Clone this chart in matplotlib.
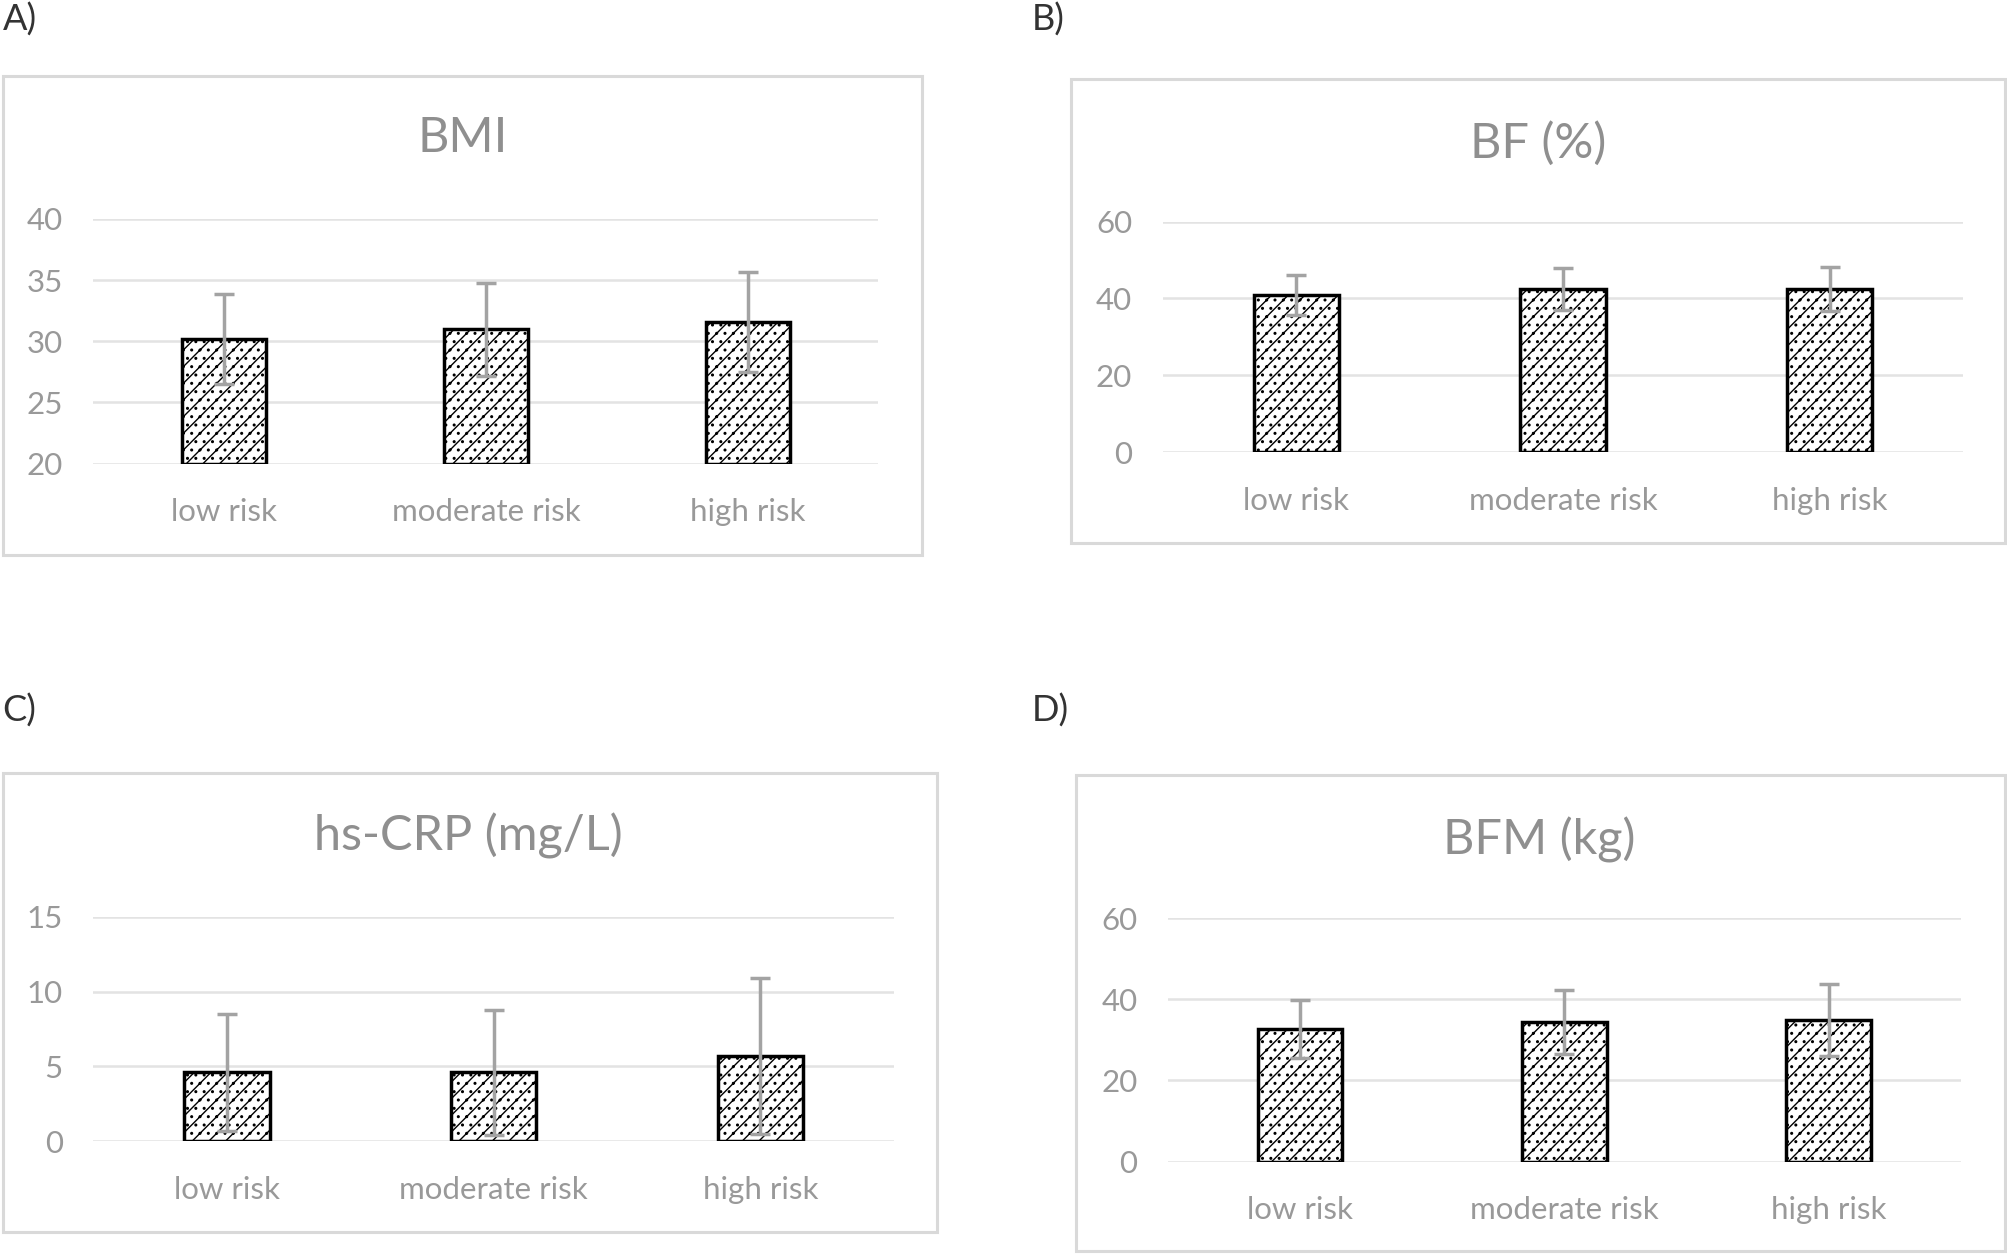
import matplotlib
matplotlib.use("Agg")
import matplotlib.pyplot as plt
from matplotlib.patches import Rectangle

plt.rcParams['font.family'] = ['Lato', 'DejaVu Sans']
plt.rcParams['hatch.linewidth'] = 1.0

categories = ["low risk", "moderate risk", "high risk"]

bmi_mean = [30.2, 31.0, 31.6]
bmi_sd = [3.7, 3.8, 4.1]
bf_mean = [40.8, 42.4, 42.4]
bf_sd = [5.2, 5.4, 5.7]
crp_mean = [4.6, 4.6, 5.7]
crp_sd = [3.9, 4.2, 5.2]
bfm_mean = [32.7, 34.5, 34.8]
bfm_sd = [7.2, 7.9, 8.9]

panel_letters = ["A)", "B)", "C)", "D)"]
titles = ["BMI", "BF (%)", "hs-CRP (mg/L)", "BFM (kg)"]

TXT = '#999999'
GRID = '#e3e3e3'
ERR = '#a3a3a3'

W, H = 1568, 980  # layout measured in shrunk-picture pixels


def fx(x):
    return x / W


def fy(y):
    return 1 - y / H


# box (x0, y0, x1, y1), axes (x0, x1, y_top, y_bottom), title (x, y), ylim, ticks, letter (x, y)
panels = [
    dict(box=(2, 59, 720, 433), ax=(73, 686, 171, 362), title=(361, 108),
         ylim=(20, 40), ticks=[20, 25, 30, 35, 40], letter=(2, 15),
         mean=bmi_mean, sd=bmi_sd),
    dict(box=(836, 62, 1566, 424), ax=(908, 1533, 173, 353), title=(1201, 112),
         ylim=(0, 60), ticks=[0, 20, 40, 60], letter=(806, 15),
         mean=bf_mean, sd=bf_sd),
    dict(box=(2, 604, 732, 962), ax=(73, 698, 716, 891), title=(366, 653),
         ylim=(0, 15), ticks=[0, 5, 10, 15], letter=(2, 555),
         mean=crp_mean, sd=crp_sd),
    dict(box=(840, 605, 1566, 977), ax=(912, 1531, 717, 907), title=(1202, 656),
         ylim=(0, 60), ticks=[0, 20, 40, 60], letter=(806, 555),
         mean=bfm_mean, sd=bfm_sd),
]

fig = plt.figure(figsize=(20.08, 12.55), dpi=100)

for i, p in enumerate(panels):
    bx0, by0, bx1, by1 = p['box']
    fig.patches.append(Rectangle((fx(bx0), fy(by1)), fx(bx1 - bx0), (by1 - by0) / H,
                                 transform=fig.transFigure, facecolor='white',
                                 edgecolor='#d9d9d9', linewidth=2.2, zorder=-1))
    ax0, ax1, ayt, ayb = p['ax']
    ax = fig.add_axes([fx(ax0), fy(ayb), fx(ax1 - ax0), (ayb - ayt) / H])
    ax.patch.set_alpha(0)
    x = range(len(categories))
    ax.bar(x, [m - p['ylim'][0] for m in p['mean']], bottom=p['ylim'][0], width=0.32,
           color='white', edgecolor='black', linewidth=2.5, hatch='//..', zorder=3)
    ax.errorbar(x, p['mean'], yerr=p['sd'], fmt='none', ecolor=ERR, elinewidth=2.5,
                capsize=7, capthick=2.5, zorder=4, clip_on=False)
    ax.set_xlim(-0.5, 2.5)
    ax.set_ylim(*p['ylim'])
    ax.set_yticks(p['ticks'])
    ax.set_xticks(list(x))
    ax.set_xticklabels(categories)
    ax.grid(axis='y', color=GRID, linewidth=1.8, zorder=0)
    ax.set_axisbelow(True)
    for s in ax.spines.values():
        s.set_visible(False)
    ax.tick_params(length=0, labelsize=22.5, labelcolor=TXT)
    ax.tick_params(axis='x', pad=25)
    ax.tick_params(axis='y', pad=22)
    tx, ty = p['title']
    fig.text(fx(tx), fy(ty), titles[i], ha='center', va='center', fontsize=35, color='#8f8f8f')
    lx, ly = p['letter']
    fig.text(fx(lx), fy(ly), panel_letters[i], ha='left', va='center', fontsize=26, color='#333333')

fig.savefig("out.png", dpi=100)
